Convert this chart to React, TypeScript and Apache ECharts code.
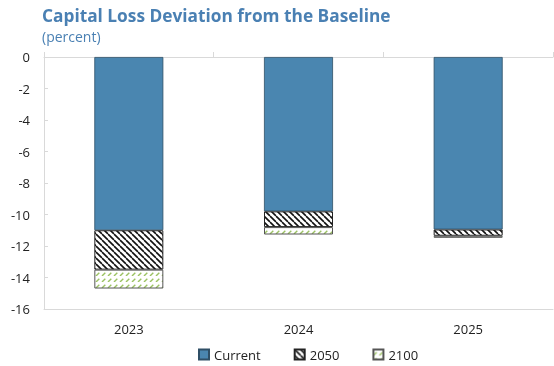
import React, { useEffect, useRef } from "react";
import * as echarts from "echarts";

const categories = ["2023", "2024", "2025"];
const currentValues = [-11.0, -9.8, -10.95];
const v2050 = [-2.5, -1.0, -0.4];
const v2100 = [-1.2, -0.47, -0.13];
const yTicks = { min: -16, max: 0, interval: 2 };

function makePattern(kind: "back" | "fwd", color: string, dashed: boolean, lw: number) {
  const s = 6;
  const c = document.createElement("canvas");
  c.width = s;
  c.height = s;
  const ctx = c.getContext("2d")!;
  ctx.fillStyle = "#ffffff";
  ctx.fillRect(0, 0, s, s);
  ctx.strokeStyle = color;
  ctx.lineWidth = lw;
  const L = s * Math.SQRT2;
  if (dashed) ctx.setLineDash([L * 0.55, L * 0.45]);
  for (let k = -1; k <= 1; k++) {
    ctx.beginPath();
    if (kind === "back") {
      ctx.moveTo(k * s, 0);
      ctx.lineTo(k * s + s, s);
    } else {
      ctx.moveTo(k * s, s);
      ctx.lineTo(k * s + s, 0);
    }
    ctx.stroke();
  }
  return { image: c, repeat: "repeat" as const };
}

export default function App() {
  const ref = useRef<HTMLDivElement>(null);
  useEffect(() => {
    if (!ref.current) return;
    const chart = echarts.init(ref.current, undefined, { renderer: "svg" });
    const p2050 = makePattern("back", "#111111", false, 1.6);
    const p2100 = makePattern("fwd", "#9bc262", true, 1.4);
    const font = "'Open Sans', 'Noto Sans', sans-serif";
    chart.setOption({
      animation: false,
      textStyle: { fontFamily: font },
      title: {
        text: "Capital Loss Deviation from the Baseline",
        subtext: "(percent)",
        left: 42,
        top: 7,
        padding: 0,
        itemGap: 5,
        textStyle: { fontSize: 17.3, fontWeight: "bold", color: "#4a80b3", fontFamily: font },
        subtextStyle: { fontSize: 14, color: "#4a80b3", fontFamily: font },
      },
      legend: {
        top: 348,
        left: 198,
        itemWidth: 10,
        itemHeight: 10,
        itemGap: 33,
        padding: 0,
        textStyle: { fontSize: 13, color: "#222", fontFamily: font },
        data: [
          { name: "Current", icon: "rect" },
          { name: "2050", icon: "rect" },
          { name: "2100", icon: "rect" },
        ],
      },
      grid: { left: 44, right: 1, top: 57, bottom: 57, outerBoundsMode: "none", containLabel: false },
      xAxis: [
        {
          type: "category",
          data: categories,
          position: "top",
          axisLine: { show: true, lineStyle: { color: "#d9d9d9", width: 1 } },
          axisTick: { show: true, length: 5, lineStyle: { color: "#d9d9d9" } },
          axisLabel: { show: false },
        },
        {
          type: "category",
          data: categories,
          position: "bottom",
          axisLine: { show: true, lineStyle: { color: "#d9d9d9", width: 1 } },
          axisTick: { show: false },
          axisLabel: { show: true, fontSize: 13, color: "#222", margin: 13, fontFamily: font },
        },
      ],
      yAxis: {
        type: "value",
        min: yTicks.min,
        max: yTicks.max,
        interval: yTicks.interval,
        axisLine: { show: true, lineStyle: { color: "#d9d9d9" } },
        axisTick: { show: true, inside: true, length: 4, lineStyle: { color: "#d9d9d9" } },
        splitLine: { show: false },
        axisLabel: { fontSize: 13, color: "#222", margin: 14, fontFamily: font },
      },
      series: [
        {
          name: "Current",
          type: "bar",
          stack: "s",
          xAxisIndex: 0,
          data: currentValues,
          barWidth: 69,
          itemStyle: { color: "#4a86b0", borderColor: "#2f4f66", borderWidth: 0.8 },
        },
        {
          name: "2050",
          type: "bar",
          stack: "s",
          xAxisIndex: 0,
          data: v2050,
          barWidth: 69,
          itemStyle: { color: p2050, borderColor: "#222", borderWidth: 1 },
        },
        {
          name: "2100",
          type: "bar",
          stack: "s",
          xAxisIndex: 0,
          data: v2100,
          barWidth: 69,
          itemStyle: { color: p2100, borderColor: "#555", borderWidth: 1 },
        },
      ],
    });
    return () => chart.dispose();
  }, []);
  return (
    <div
      ref={ref}
      style={{ position: "fixed", left: 0, top: 0, width: 554, height: 366 }}
    />
  );
}
